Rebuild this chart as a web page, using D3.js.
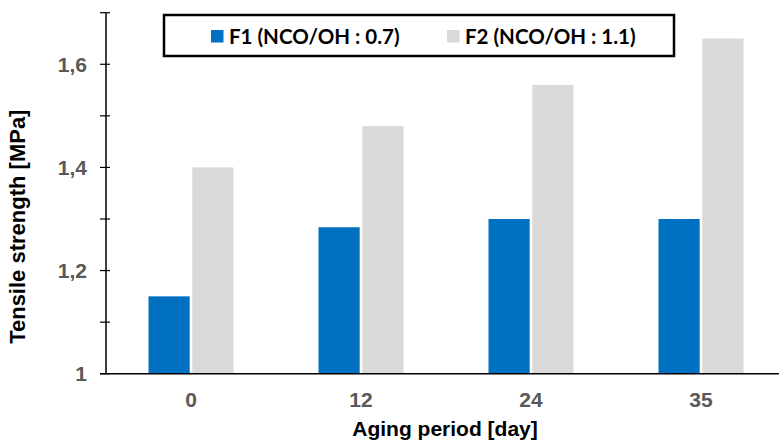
<!DOCTYPE html>
<html><head><meta charset="utf-8">
<script src="https://cdn.jsdelivr.net/npm/d3@7"></script>
<style>html,body{margin:0;padding:0;background:#fff;}svg{display:block;}</style>
</head><body>
<svg id="chart" width="779" height="440"></svg>
<script>
const categories = ["0", "12", "24", "35"];
const seriesNames = ["F1 (NCO/OH : 0.7)", "F2 (NCO/OH : 1.1)"];
const f1Values = [1.15, 1.284, 1.30, 1.30];
const f2Values = [1.40, 1.48, 1.56, 1.65];
const yTickValues = [1, 1.1, 1.2, 1.3, 1.4, 1.5, 1.6, 1.7];
const yLabelValues = [1, 1.2, 1.4, 1.6];
const colors = ["#0070C0", "#D9D9D9"];

const svg = d3.select("#chart");
const x0 = d3.scaleBand().domain(categories).range([106, 786]).paddingInner(0.5).paddingOuter(0.25);
const x1 = d3.scaleBand().domain([0, 1]).range([0, x0.bandwidth()]).paddingInner(0.06);
const y = d3.scaleLinear().domain([1, 1.7]).range([373.7, 12.7]);

const series = [f1Values, f2Values];
series.forEach((vals, si) => {
  svg.append("g").selectAll("rect").data(vals).join("rect")
    .attr("x", (d, i) => x0(categories[i]) + x1(si))
    .attr("y", d => y(d))
    .attr("width", x1.bandwidth())
    .attr("height", d => y(1) - y(d))
    .attr("fill", colors[si]);
});

// y axis
svg.append("line").attr("x1", 106).attr("x2", 106).attr("y1", y(1.7)).attr("y2", y(1))
  .attr("stroke", "#000").attr("stroke-width", 1.5);
svg.append("g").selectAll("line").data(yTickValues).join("line")
  .attr("x1", 100).attr("x2", 110).attr("y1", d => y(d)).attr("y2", d => y(d))
  .attr("stroke", "#000").attr("stroke-width", 1.2);
svg.append("g").selectAll("text").data(yLabelValues).join("text")
  .attr("x", 87).attr("y", d => y(d)).attr("dy", "0.35em")
  .attr("text-anchor", "end")
  .attr("font-family", "Liberation Sans, Arial, sans-serif").attr("font-weight", "bold")
  .attr("font-size", 21).attr("fill", "#595959")
  .text(d => d3.format(".1f")(d).replace(/\.0$/, "").replace(".", ","));

// x axis
svg.append("line").attr("x1", 100).attr("x2", 779).attr("y1", y(1)).attr("y2", y(1))
  .attr("stroke", "#000").attr("stroke-width", 1.5);
const xAxis = d3.axisBottom(x0).tickSize(0).tickPadding(0);
const gx = svg.append("g").attr("transform", "translate(0,392)").call(xAxis);
gx.select(".domain").remove();
gx.selectAll("text")
  .attr("font-family", "Liberation Sans, Arial, sans-serif").attr("font-weight", "bold")
  .attr("font-size", 21).attr("fill", "#595959").attr("dy", "0.71em");

// titles
svg.append("text").attr("x", 445).attr("y", 436).attr("text-anchor", "middle")
  .attr("font-family", "Liberation Sans, Arial, sans-serif").attr("font-weight", "bold")
  .attr("font-size", 21).attr("fill", "#000").text("Aging period [day]");
svg.append("text").attr("transform", "translate(25,226.7) rotate(-90)").attr("text-anchor", "middle")
  .attr("font-family", "Liberation Sans, Arial, sans-serif").attr("font-weight", "bold")
  .attr("font-size", 22).attr("fill", "#000").text("Tensile strength [MPa]");

// legend
const lg = svg.append("g");
lg.append("rect").attr("x", 164).attr("y", 15).attr("width", 510).attr("height", 41)
  .attr("fill", "#fff").attr("stroke", "#000").attr("stroke-width", 2.5);
const legendX = [211, 447];
seriesNames.forEach((name, i) => {
  lg.append("rect").attr("x", legendX[i]).attr("y", 30).attr("width", 12.5).attr("height", 12.5).attr("fill", colors[i]);
  lg.append("text").attr("x", legendX[i] + 18).attr("y", 36.5).attr("dy", "0.35em")
    .attr("font-family", "Lato, 'Open Sans', sans-serif").attr("font-weight", "bold")
    .attr("font-size", 20.5).attr("fill", "#000").text(name);
});
</script>
</body></html>
